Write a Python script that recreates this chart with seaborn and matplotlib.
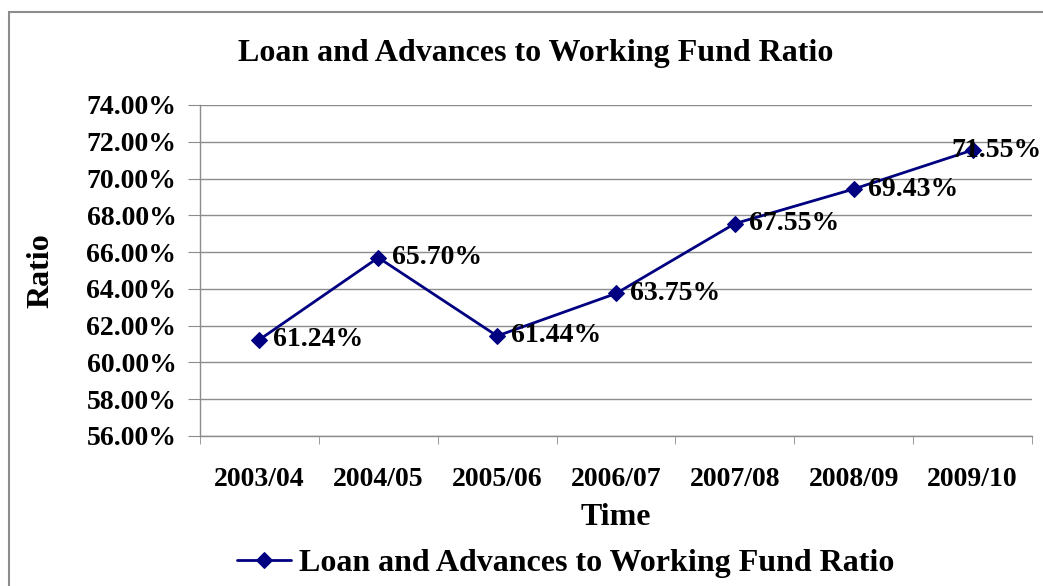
import numpy as np
import matplotlib
matplotlib.use('Agg')
import matplotlib.pyplot as plt
from matplotlib.patches import Rectangle
from matplotlib.ticker import FuncFormatter, FixedLocator
import seaborn as sns

years = ['2003/04', '2004/05', '2005/06', '2006/07', '2007/08', '2008/09', '2009/10']
ratio = [61.24, 65.70, 61.44, 63.75, 67.55, 69.43, 71.55]
series_name = 'Loan and Advances to Working Fund Ratio'

sns.set_style('white')
plt.rcParams['font.family'] = ['Liberation Serif', 'DejaVu Serif']
plt.rcParams['font.weight'] = 'bold'
plt.rcParams['text.color'] = 'black'
plt.rcParams['axes.labelcolor'] = 'black'
plt.rcParams['xtick.labelcolor'] = 'black'
plt.rcParams['ytick.labelcolor'] = 'black'

W, H = 1043, 586
fig = plt.figure(figsize=(W / 100, H / 100), dpi=100)
ax = fig.add_axes([200 / W, 1 - 436 / H, (1032 - 200) / W, (436 - 105) / H])

# Excel 风格外框（右侧和底部超出画面）
fig.patches.append(Rectangle((9 / W, -0.2), 1.5, 1.2 - 12 / H,
                             transform=fig.transFigure, fill=False,
                             edgecolor='#8c8c8c', lw=1.5))

sns.lineplot(x=years, y=ratio, ax=ax, sort=False, color='#000080', lw=2,
             marker='D', markersize=8, markeredgecolor='#000080',
             label=series_name)

# 数据标签（最后一个往左挪，避免超出画面）
for i, v in enumerate(ratio):
    dx = 14 if i < len(ratio) - 1 else -21
    ax.annotate(f'{v:.2f}%', (i, v), xytext=(dx * 0.72, 0), textcoords='offset points',
                ha='left', va='center', fontsize=20, fontweight='bold', color='black')

ax.set_xlim(-0.5, len(years) - 0.5)
ax.set_ylim(56, 74)
ax.yaxis.set_major_locator(FixedLocator(np.arange(56, 74.1, 2)))
ax.yaxis.set_major_formatter(FuncFormatter(lambda v, p: f'{v:.2f}%'))
ax.grid(axis='y', color='#8c8c8c', lw=1)
ax.set_axisbelow(True)

ax.set_xticks(range(len(years)))
ax.set_xticklabels(years)
ax.xaxis.set_minor_locator(FixedLocator(np.arange(-0.5, len(years), 1)))
ax.tick_params(axis='x', which='major', length=0, pad=22, labelsize=20)
ax.tick_params(axis='x', which='minor', length=6, color='#8c8c8c', direction='out', bottom=True)
ax.tick_params(axis='y', which='major', length=9, color='#8c8c8c', direction='out',
               left=True, pad=8, labelsize=20)

for s in ['top', 'right']:
    ax.spines[s].set_visible(False)
for s in ['left', 'bottom']:
    ax.spines[s].set_color('#8c8c8c')
    ax.spines[s].set_linewidth(1)

ax.set_xlabel('Time', fontsize=23, fontweight='bold', labelpad=8)
ax.set_ylabel('Ratio', fontsize=23, fontweight='bold', labelpad=22)
fig.text(536 / W, 1 - 54 / H, series_name, ha='center', va='center',
         fontsize=23, fontweight='bold')

ax.legend(loc='center', bbox_to_anchor=(566 / W, 1 - 563 / H),
          bbox_transform=fig.transFigure, frameon=False,
          prop={'size': 23, 'weight': 'bold'}, handlelength=1.7,
          handletextpad=0.25, borderpad=0)

fig.savefig('out.png', dpi=100)
